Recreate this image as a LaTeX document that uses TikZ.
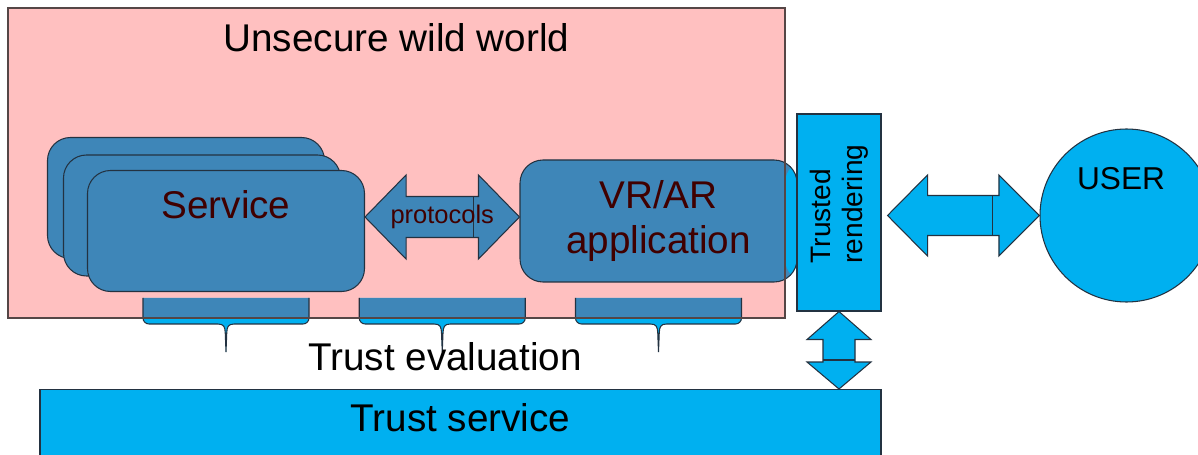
\documentclass[tikz,border=0pt]{standalone}
\usepackage{fontspec}
\setmainfont{Liberation Sans}
\usetikzlibrary{calc}

\definecolor{wildpink}{RGB}{255,192,192}
\definecolor{wildedge}{RGB}{85,70,70}
\definecolor{steel}{RGB}{62,134,184}
\definecolor{trustcyan}{RGB}{0,176,240}
\definecolor{edgecol}{RGB}{35,50,65}
\definecolor{maroontext}{RGB}{64,0,0}

\tikzset{
  shapeline/.style={draw=edgecol, line width=0.6pt},
  steelbox/.style={shapeline, fill=steel, rounded corners=0.46cm, minimum width=5.54cm, minimum height=2.42cm, inner sep=0pt},
  cyanbox/.style={shapeline, fill=trustcyan, inner sep=0pt},
  bigtext/.style={font=\fontsize{22}{26}\selectfont},
  trustbrace/.pic={
    \fill[trustcyan] (-1.66,0) -- (-1.66,-0.40) arc[start angle=180, end angle=270, radius=0.12]
      -- (-0.16,-0.52) .. controls (-0.04,-0.52) and (-0.02,-0.58) .. (-0.015,-0.70) -- (0,-1.08)
      -- (0.015,-0.70) .. controls (0.02,-0.58) and (0.04,-0.52) .. (0.16,-0.52)
      -- (1.54,-0.52) arc[start angle=270, end angle=360, radius=0.12] -- (1.66,0) -- cycle;
    \fill[steel] (-1.66,0) rectangle (1.66,-0.40);
    \draw[shapeline] (-1.66,0) -- (-1.66,-0.40) arc[start angle=180, end angle=270, radius=0.12]
      -- (-0.16,-0.52) .. controls (-0.04,-0.52) and (-0.02,-0.58) .. (-0.015,-0.70) -- (0,-1.08)
      -- (0.015,-0.70) .. controls (0.02,-0.58) and (0.04,-0.52) .. (0.16,-0.52)
      -- (1.54,-0.52) arc[start angle=270, end angle=360, radius=0.12] -- (1.66,0);
  }
}

\begin{document}
\begin{tikzpicture}
  \useasboundingbox (0,0) rectangle (23.96,-9.10);
  \fill[white] (0,0) rectangle (23.96,-9.10);
  \clip (0,0) rectangle (23.96,-9.10);
  % unsecure area
  \node[fill=wildpink, minimum width=15.54cm, minimum height=6.20cm, inner sep=0pt, outer sep=0pt] (wild) at (7.93,-3.26) {};
  \node[bigtext] (title) at ($(wild.north)+(0,-0.60)$) {Unsecure wild world};
  % services
  \node[steelbox] (srv3) at (3.72,-3.96) {};
  \node[steelbox] (srv2) at (4.04,-4.31) {};
  \node[steelbox] (srv) at (4.52,-4.62) {};
  \node[bigtext, text=maroontext] (srvtxt) at ($(srv.center)+(0,0.52)$) {Service};
  % application
  \node[steelbox, minimum height=2.44cm, align=center, text=maroontext, bigtext,
    path picture={\fill[trustcyan] (wild.east |- path picture bounding box.north) rectangle (path picture bounding box.south east);}]
    (app) at (13.17,-4.42) {VR/AR\\application};
  % protocols
  \coordinate (pl) at ($(srv.east |- app.west)+(0,0.08)$);
  \coordinate (pr) at ($(app.west)+(0,0.08)$);
  \draw[shapeline, fill=steel] (pl) -- ++(0.82,0.84) -- ++(0,-0.43) -- ($(pr)+(-0.82,0.41)$) -- ++(0,0.43) -- (pr)
    -- ++(-0.82,-0.84) -- ++(0,0.43) -- ($(pl)+(0.82,-0.41)$) -- ++(0,-0.43) -- cycle;
  \draw[shapeline] ($(pr)+(-0.92,0.41)$) -- ++(0,-0.82);
  \node[text=maroontext, font=\fontsize{14.5}{17}\selectfont] (proto) at ($(pl)!0.5!(pr)$) {protocols};
  % braces
  \coordinate (bt) at (0,-5.96);
  \foreach \n in {srv,proto,app}
    \pic at (\n |- bt) {trustbrace};
  \draw[draw=wildedge, line width=0.6pt] (wild.north west) rectangle (wild.south east);
  % trusted rendering
  \node[cyanbox, minimum width=1.68cm, minimum height=3.94cm] (rend) at (16.78,-4.25) {};
  \node[rotate=90, align=left, font=\fontsize{16}{18}\selectfont] (rendtxt) at ($(rend.center)+(0,0.17)$) {Trusted\\rendering};
  % user
  \node[cyanbox, circle, minimum size=3.46cm] (user) at (22.53,-4.31) {};
  \node[font=\fontsize{18}{22}\selectfont] (usertxt) at ($(user.center)+(-0.11,0.73)$) {USER};
  \coordinate (ul) at ($(rend.east |- user.west)+(0.12,0)$);
  \draw[shapeline, fill=trustcyan] (ul) -- ++(0.80,0.81) -- ++(0,-0.41) -- ($(user.west)+(-0.81,0.40)$) -- ++(0,0.41) -- (user.west)
    -- ++(-0.81,-0.81) -- ++(0,0.41) -- ($(ul)+(0.80,-0.40)$) -- ++(0,-0.41) -- cycle;
  \draw[shapeline] ($(user.west)+(-0.94,0.40)$) -- ++(0,-0.80);
  % trust service
  \node[cyanbox, minimum width=16.82cm, minimum height=1.60cm, anchor=north] (trust) at (9.21,-7.78) {};
  \node[bigtext] (trusttxt) at (9.21,-8.36) {Trust service};
  \node[bigtext] (evaltxt) at (8.90,-7.14) {Trust evaluation};
  \coordinate (vt) at (rend.south);
  \coordinate (vb) at (rend.south |- trust.north);
  \draw[shapeline, fill=trustcyan] (vt) -- ++(0.64,-0.56) -- ++(-0.32,0) -- ($(vb)+(0.32,0.54)$) -- ++(0.32,0) -- (vb)
    -- ++(-0.64,0.54) -- ++(0.32,0) -- ($(vt)+(-0.32,-0.56)$) -- ++(-0.32,0) -- cycle;
  \draw[shapeline] ($(vb)+(-0.32,0.58)$) -- ++(0.64,0);
\end{tikzpicture}
\end{document}
